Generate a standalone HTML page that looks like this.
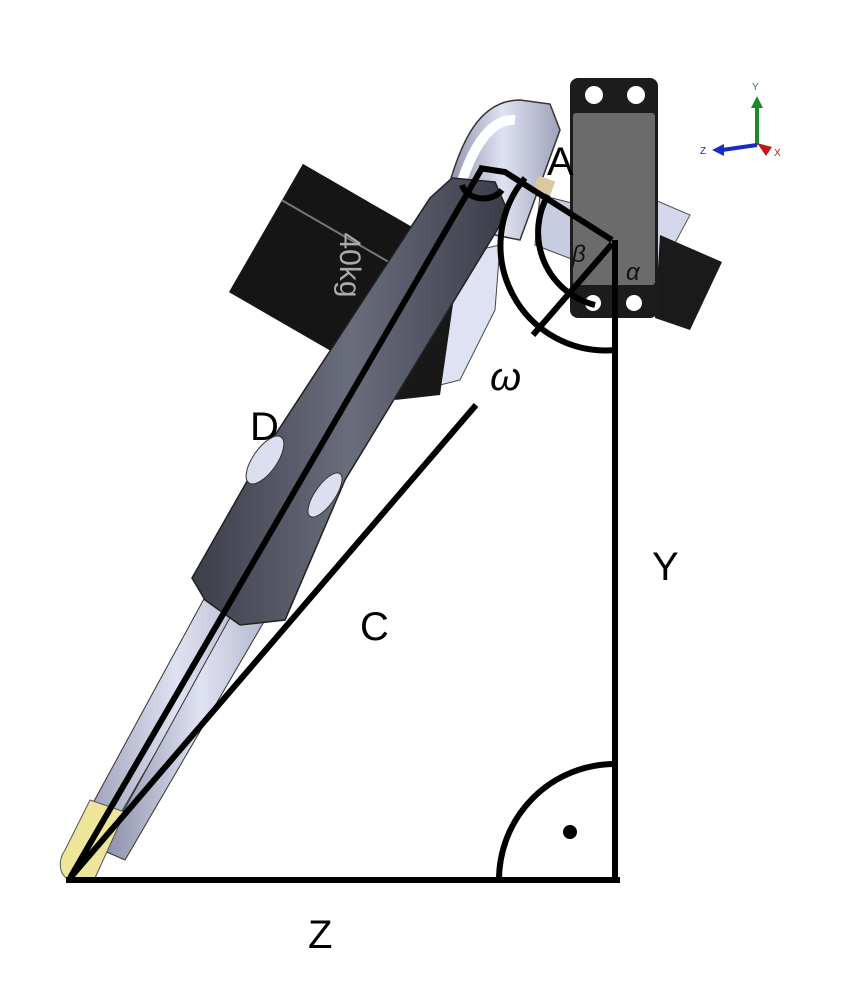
<!DOCTYPE html>
<html><head><meta charset="utf-8"><style>
html,body{margin:0;padding:0;background:#fff;}
svg{display:block;}
text{font-family:"Liberation Sans",sans-serif;}
</style></head><body>
<svg width="842" height="988" viewBox="0 0 842 988">
<defs>
<linearGradient id="arm" x1="0" y1="0" x2="1" y2="0">
<stop offset="0" stop-color="#8a8ea6"/><stop offset="0.5" stop-color="#dfe2f2"/><stop offset="1" stop-color="#9ea2b8"/>
</linearGradient>
<linearGradient id="dark" x1="0" y1="0" x2="1" y2="0">
<stop offset="0" stop-color="#3c3e4a"/><stop offset="0.5" stop-color="#6a6d7c"/><stop offset="1" stop-color="#3a3c48"/>
</linearGradient>
</defs>

<g>
<polygon points="655,200 690,215 655,280" fill="#d5d8ea" stroke="#555" stroke-width="1"/>
<polygon points="660,235 722,262 690,330 655,318" fill="#1a1a1a"/>
<polygon points="540,195 600,210 600,270 535,245" fill="#c8cce0" stroke="#444" stroke-width="1"/>
</g>

<g transform="translate(330,265) rotate(30)">
<rect x="-74" y="-74" width="148" height="148" fill="#151515"/>
<line x1="-74" y1="-32" x2="74" y2="-32" stroke="#777" stroke-width="2"/>
<text x="0" y="0" transform="rotate(60) translate(0,-18)" font-size="30" fill="#aaa" text-anchor="middle" dominant-baseline="middle">40kg</text>
</g>

<path d="M445,200 C460,140 480,100 520,100 L550,104 L560,130 L520,240 L470,230 Z" fill="url(#arm)" stroke="#333" stroke-width="1.5"/>
<path d="M458,195 C470,150 490,118 515,120" fill="none" stroke="#fff" stroke-width="10"/>

<polygon points="455,255 500,245 495,310 460,380 420,390 430,320" fill="#dfe2f2" stroke="#444" stroke-width="1"/>
<polygon points="395,400 420,300 455,290 440,395" fill="#181818"/>

<polygon points="62,860 88,870 290,520 255,505" fill="url(#arm)" stroke="#333" stroke-width="1"/>
<polygon points="102,850 125,860 300,560 270,545" fill="url(#arm)" stroke="#333" stroke-width="1"/>

<polygon points="192,578 262,455 430,198 452,178 495,182 508,212 345,480 285,620 240,625 205,600" fill="url(#dark)" stroke="#222" stroke-width="1.5"/>
<ellipse cx="265" cy="460" rx="12" ry="28" transform="rotate(35 265 460)" fill="#dcdff0" stroke="#333"/>
<ellipse cx="325" cy="495" rx="10" ry="26" transform="rotate(35 325 495)" fill="#dcdff0" stroke="#333"/>

<path d="M90,800 L125,812 L95,878 L70,880 C58,875 58,860 65,850 Z" fill="#ece59a" stroke="#555" stroke-width="1"/>

<g>
<rect x="570" y="78" width="88" height="240" rx="8" fill="#1c1c1c"/>
<rect x="573" y="113" width="82" height="172" rx="3" fill="#6b6b6b"/>
<circle cx="594" cy="95" r="9" fill="#fff"/>
<circle cx="636" cy="95" r="9" fill="#fff"/>
<circle cx="593" cy="303" r="8" fill="#fff"/>
<circle cx="634" cy="303" r="8" fill="#fff"/>
</g>
<rect x="535" y="178" width="18" height="16" fill="#d8c9a0" transform="rotate(20 544 186)"/>

<g fill="none" stroke="#000" stroke-width="6">
<line x1="66" y1="880" x2="620" y2="880"/>
<line x1="615" y1="240" x2="615" y2="883"/>
<line x1="70" y1="878" x2="482" y2="168"/>
<line x1="70" y1="878" x2="476" y2="405"/>
<polyline points="479,168 505,172 612,240"/>
<line x1="612" y1="244" x2="533" y2="335"/>
<path d="M499,880 A116,116 0 0 1 615,764"/>
<path d="M525,178 A105,105 0 0 0 615,350"/>
<path d="M548,195 A75,75 0 0 0 595,305"/>
<path d="M462,185 A22,18 0 0 0 502,190"/>
</g>
<circle cx="570" cy="832" r="7" fill="#000"/>

<text x="547" y="175" font-size="40">A</text>
<text x="490" y="390" font-size="40" font-family="Liberation Serif,serif" font-style="italic">ω</text>
<text x="250" y="440" font-size="40">D</text>
<text x="360" y="640" font-size="40">C</text>
<text x="652" y="580" font-size="40">Y</text>
<text x="308" y="948" font-size="40">Z</text>
<text x="572" y="262" font-size="24" font-family="Liberation Serif,serif" font-style="italic" fill="#111">β</text>
<text x="626" y="280" font-size="24" font-family="Liberation Serif,serif" font-style="italic" fill="#111">α</text>

<g>
<line x1="757" y1="145" x2="757" y2="105" stroke="#1a8a2a" stroke-width="4"/>
<polygon points="751,108 763,108 757,96" fill="#1a8a2a"/>
<text x="752" y="90" font-size="10" fill="#1a8a2a">Y</text>
<line x1="757" y1="145" x2="722" y2="150" stroke="#1a2ac8" stroke-width="4"/>
<polygon points="724,144 724,156 712,150" fill="#1a2ac8"/>
<text x="700" y="154" font-size="10" fill="#1a2ac8">Z</text>
<polygon points="757,143 772,147 766,156" fill="#c01818"/>
<text x="774" y="156" font-size="10" fill="#c01818">X</text>
</g>
</svg>
</body></html>
